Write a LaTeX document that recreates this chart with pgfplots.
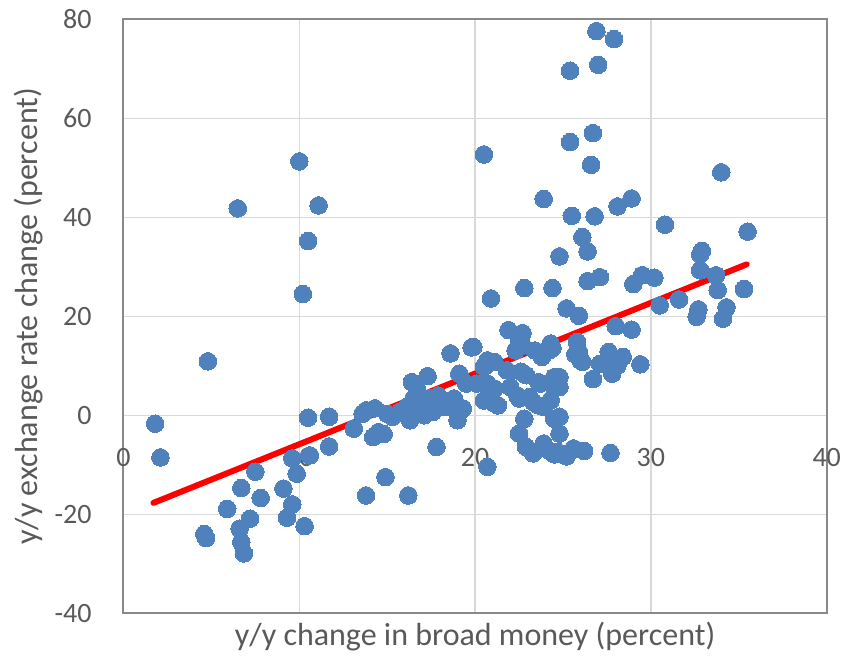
\documentclass[border=0pt]{standalone}
\usepackage{pgfplots}
\pgfplotsset{compat=1.18}
\usepackage{pgfplotstable}
\usepackage{fontspec}
\setmainfont{Carlito}
\definecolor{ptblue}{HTML}{4F81BD}
\definecolor{gridgray}{HTML}{D9D9D9}
\definecolor{framegray}{HTML}{898989}
\definecolor{labelgray}{HTML}{595959}
\pgfplotstableread{
x y
1.8 -1.7
2.1 -8.5
4.8 10.9
6.5 41.8
10.0 51.3
11.1 42.4
10.5 35.2
10.2 24.5
4.6 -24.0
4.7 -24.8
5.9 -18.9
6.6 -22.9
6.7 -25.6
6.85 -27.9
6.7 -14.7
7.2 -20.9
7.5 -11.4
7.8 -16.7
9.1 -14.8
9.6 -18.0
9.3 -20.7
10.3 -22.4
9.6 -8.7
9.85 -11.8
10.6 -8.1
10.5 -0.5
11.7 -0.3
11.7 -6.3
13.1 -2.7
13.6 0.3
13.8 1.0
14.3 1.4
14.2 -4.4
14.8 -3.8
14.5 -3.4
14.9 -12.5
13.8 -16.2
16.2 -16.2
17.8 -6.4
15.0 0.3
15.3 -0.3
15.7 0.7
16.1 1.7
16.3 -1.0
16.9 1.7
17.1 0.0
17.6 0.7
18.0 1.7
16.4 6.7
17.3 7.9
16.7 5.1
16.5 3.4
17.4 3.4
17.9 4.0
18.8 3.4
18.4 1.7
19.3 1.4
19.0 -1.0
18.6 12.5
19.8 13.7
19.1 8.4
19.5 6.4
19.2 1.0
20.6 10.1
21.0 10.8
20.7 6.4
20.5 3.0
21.1 2.4
20.5 9.8
21.8 9.1
22.6 8.8
20.1 6.4
21.1 5.4
22.0 5.7
22.4 4.0
21.3 2.0
23.1 3.7
23.3 2.7
23.9 1.7
24.3 3.0
22.9 8.1
23.6 6.7
24.5 7.7
24.5 5.6
23.7 6.4
22.5 3.4
23.6 2.0
20.7 -10.4
22.8 -0.7
24.5 -0.7
24.8 -0.3
22.5 -3.7
24.8 -3.7
22.9 -6.4
23.3 -7.7
23.9 -5.7
24.2 -7.1
24.7 -7.4
24.5 -7.9
25.3 -7.7
25.2 -8.3
25.6 -6.7
26.2 -7.2
27.7 -7.6
19.9 13.8
22.5 14.8
22.7 14.1
24.3 14.5
24.4 13.6
25.8 14.8
25.9 12.8
22.3 13.1
23.4 13.1
24.2 13.1
23.8 11.8
20.7 11.1
21.1 10.8
20.9 23.6
21.9 17.2
22.7 16.6
22.8 25.7
24.4 25.7
25.2 21.6
25.9 20.1
25.7 12.3
26.0 11.1
26.1 10.8
27.6 12.8
27.3 10.4
27.1 10.4
28.4 11.8
28.1 10.1
29.4 10.3
27.8 8.4
26.7 7.3
24.8 7.7
24.8 5.7
28.0 18.0
28.9 17.3
20.5 52.7
26.9 77.6
27.9 76.0
27.0 70.8
25.4 69.6
26.7 57.0
25.4 55.2
26.6 50.6
34.0 49.1
23.9 43.7
28.9 43.8
28.1 42.2
25.5 40.3
26.8 40.2
30.8 38.5
35.5 37.1
26.1 36.0
32.9 33.2
32.8 32.5
26.4 33.1
24.8 32.1
32.8 29.3
33.7 28.3
29.5 28.3
30.2 27.8
27.1 27.9
26.4 27.1
29.0 26.5
33.8 25.3
35.3 25.5
31.6 23.4
30.5 22.2
32.7 21.4
32.6 19.9
34.3 21.8
34.1 19.5
}\scatterdata
\begin{document}
\begin{tikzpicture}
\begin{axis}[
  at={(0,0)}, anchor=south west,
  scale only axis,
  width=351.6pt, height=297pt,
  xmin=0, xmax=40, ymin=-40, ymax=80,
  xtick={0,10,20,30,40},
  xticklabels={0,10,20,30,40},
  ytick={-40,-20,0,20,40,60,80},
  yticklabels={-40,-20,0,20,40,60,80},
  grid=major,
  major grid style={color=gridgray, line width=0.75pt},
  axis line style={color=framegray, line width=1pt},
  tick style={draw=none},
  major tick length=0pt,
  ticklabel style={font=\fontsize{14}{16}\selectfont, text=labelgray, inner sep=0pt},
  xticklabel style={anchor=base, yshift=73.15pt},
  yticklabel style={anchor=east, xshift=-15.75pt},
  xlabel={y/y change in broad money (percent)},
  ylabel={y/y exchange rate change (percent)},
  every axis x label/.style={at={(axis description cs:0.5,-0.0534)}, anchor=base, font=\fontsize{16}{19}\selectfont, text=labelgray, inner sep=0pt},
  every axis y label/.style={at={(axis description cs:-0.123,0.5)}, anchor=base, rotate=90, font=\fontsize{16}{19}\selectfont, text=labelgray, inner sep=0pt},
]
\addplot[only marks, mark=*, mark size=4.4pt, mark options={fill=ptblue, draw=ptblue, line width=0pt}] table[x=x,y=y] {\scatterdata};
\addplot[color=red, line width=3pt, line cap=round] coordinates {(1.7,-17.7) (35.45,30.5)};
\end{axis}
\pgfresetboundingbox
\path (-61.75pt,-21.85pt) rectangle (360.25pt,306.65pt);
\end{tikzpicture}
\end{document}
